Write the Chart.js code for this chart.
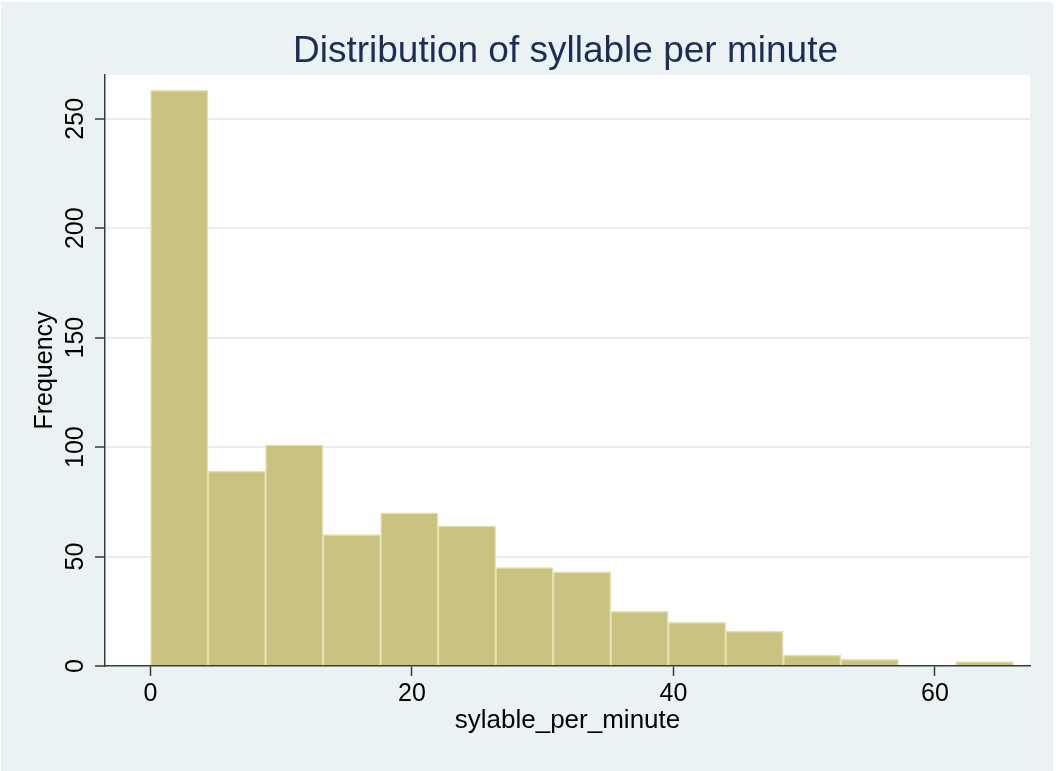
<!DOCTYPE html>
<html><head><meta charset="utf-8">
<script src="https://cdn.jsdelivr.net/npm/chart.js@4"></script>
<style>html,body{margin:0;padding:0;background:#fff}canvas{display:block}</style>
</head><body>
<canvas id="c" width="1056" height="771"></canvas>
<script>
const chartTitle = 'Distribution of syllable per minute';
const xTitle = 'sylable_per_minute';
const yTitle = 'Frequency';
const binCenters = [2.2, 6.6, 11.0, 15.4, 19.8, 24.2, 28.6, 33.0, 37.4, 41.8, 46.2, 50.6, 55.0, 59.4, 63.8];
const frequencies = [263, 89, 101, 60, 70, 64, 45, 43, 25, 20, 16, 5, 3, 0, 2];
const xTicks = [0, 20, 40, 60];
const yTicks = [0, 50, 100, 150, 200, 250];
const xRange = [-3.48, 67.27];
const yRange = [0, 270];

const FONT = "'Liberation Sans', Arial, Helvetica, sans-serif";
const BG = '#eaf2f3';
const AXIS = '#3a3a3a';

const bgPlugin = {
  id: 'bg',
  beforeDraw(chart) {
    const {ctx, chartArea: a} = chart;
    ctx.save();
    ctx.fillStyle = '#ffffff';
    ctx.fillRect(0, 0, chart.width, chart.height);
    ctx.fillStyle = BG;
    ctx.fillRect(1, 2, chart.width - 4, chart.height - 2);
    ctx.fillStyle = '#ffffff';
    ctx.fillRect(a.left, a.top, a.right - a.left, a.bottom - a.top);
    ctx.restore();
  },
  afterDraw(chart) {
    const {ctx, chartArea: a} = chart;
    const ys = chart.scales.y;
    ctx.save();
    ctx.fillStyle = '#1e2d58';
    ctx.font = '37px ' + FONT;
    ctx.textAlign = 'center';
    ctx.textBaseline = 'alphabetic';
    ctx.fillText(chartTitle, (a.left + a.right) / 2 - 2, 62);
    ctx.fillStyle = '#000';
    ctx.font = '25px ' + FONT;
    ys.ticks.forEach(t => {
      const py = ys.getPixelForValue(t.value);
      ctx.save();
      ctx.translate(83, py);
      ctx.rotate(-Math.PI / 2);
      ctx.textAlign = 'center';
      ctx.textBaseline = 'alphabetic';
      ctx.fillText(String(t.value), 0, 0);
      ctx.restore();
    });
    ctx.restore();
  }
};

new Chart(document.getElementById('c'), {
  type: 'bar',
  data: {
    datasets: [{
      data: binCenters.map((x, i) => ({x: x, y: frequencies[i]})),
      backgroundColor: 'rgb(202,194,129)',
      borderColor: 'rgb(229,225,178)',
      borderWidth: 1.5,
      barPercentage: 1,
      categoryPercentage: 1
    }]
  },
  options: {
    responsive: false,
    animation: false,
    layout: {padding: {left: 0, right: 26, top: 75, bottom: 0}},
    plugins: {legend: {display: false}, tooltip: {enabled: false}, title: {display: false}},
    scales: {
      x: {
        type: 'linear',
        min: xRange[0], max: xRange[1],
        offset: false,
        afterBuildTicks: s => { s.ticks = xTicks.map(v => ({value: v})); },
        afterFit: s => { s.height = 105; },
        grid: {offset: false, drawOnChartArea: false, drawTicks: true, tickLength: 10, tickColor: AXIS, tickWidth: 1.5},
        border: {display: true, color: AXIS, width: 1.5},
        ticks: {color: '#000', font: {family: FONT, size: 25}, padding: 3, maxRotation: 0, minRotation: 0},
        title: {display: true, text: xTitle, color: '#000', font: {family: FONT, size: 26}, padding: {top: 0, bottom: 35}}
      },
      y: {
        type: 'linear',
        min: yRange[0], max: yRange[1],
        afterBuildTicks: s => { s.ticks = yTicks.map(v => ({value: v})); },
        afterFit: s => { s.width = 105; },
        grid: {
          color: c => (c.tick && c.tick.value === 0) ? 'rgba(0,0,0,0)' : '#e6eff1',
          lineWidth: 2,
          drawTicks: true, tickLength: 10, tickColor: AXIS, tickWidth: 1.5
        },
        border: {display: true, color: AXIS, width: 1.5},
        ticks: {display: false},
        title: {display: true, text: yTitle, color: '#000', font: {family: FONT, size: 25}, padding: {top: 30, bottom: 0}}
      }
    }
  },
  plugins: [bgPlugin]
});
</script>
</body></html>
